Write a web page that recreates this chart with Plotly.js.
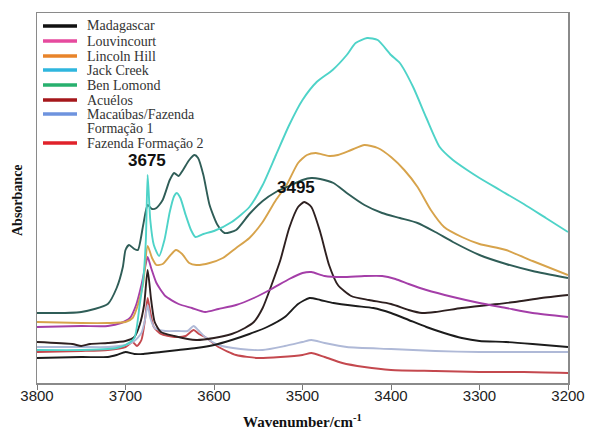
<!DOCTYPE html>
<html><head><meta charset="utf-8">
<script src="https://cdn.plot.ly/plotly-3.0.1.min.js"></script>
<style>body{margin:0;background:#fff}#chart{width:600px;height:432px}</style>
</head><body><div id="chart"></div>
<script>
// Jack Creek (turquoise)
const jackW = [3800,3750,3720,3710,3700,3690,3684,3680,3677,3675,3672,3668,3662,3656,3650,3645,3642,3638,3632,3626,3621,3612,3600,3580,3560,3545,3530,3515,3500,3484,3466,3450,3440,3427,3415,3400,3390,3375,3360,3345,3330,3314,3300,3277,3250,3225,3200];
const jackA = [33,33,34,35,38,45,78,103,143,208,163,138,127,143,171,187,190,185,168,153,146,149,152,161,176,198,228,258,283,301,313,328,340,345,343,328,320,296,265,236,223,213,205,193,179,165,151];
// Ben Lomond (dark teal)
const benW = [3800,3750,3720,3710,3703,3700,3696,3690,3686,3680,3675,3670,3665,3658,3650,3645,3640,3635,3628,3622,3618,3612,3605,3596,3588,3575,3560,3545,3530,3515,3500,3490,3480,3465,3450,3430,3410,3390,3370,3350,3330,3300,3270,3240,3200];
const benA = [70,71,79,95,116,133,138,134,133,158,178,174,175,183,203,210,207,213,223,228,225,208,178,158,150,153,169,182,191,197,203,205,204,200,190,178,170,165,160,151,141,128,119,112,105];
// Lincoln Hill (orange)
const lincW = [3800,3750,3720,3700,3692,3686,3680,3675,3670,3665,3658,3650,3643,3636,3628,3620,3605,3590,3575,3560,3545,3530,3518,3505,3495,3485,3470,3460,3445,3430,3415,3400,3385,3370,3355,3340,3320,3300,3270,3240,3200];
const lincA = [61,60,60,61,65,78,100,137,125,118,119,127,133,129,120,118,120,125,135,145,161,183,198,220,228,230,227,228,233,238,235,226,213,196,173,156,146,139,133,122,108];
// Louvincourt (magenta)
const louvW = [3800,3750,3720,3705,3695,3688,3682,3678,3675,3671,3665,3655,3640,3625,3610,3595,3575,3555,3535,3515,3500,3490,3475,3455,3430,3410,3395,3380,3360,3330,3300,3270,3240,3200];
const louvA = [56,57,57,60,65,78,98,115,126,115,100,87,79,75,71,74,78,85,94,104,110,111,107,106,107,107,104,99,93,86,80,75,70,66];
// Madagascar (dark, sharp 3495 band)
const madW = [3800,3760,3750,3740,3720,3700,3690,3684,3679,3675,3671,3667,3660,3645,3620,3600,3580,3565,3555,3545,3535,3525,3515,3505,3498,3490,3480,3470,3460,3445,3425,3400,3380,3365,3350,3320,3290,3260,3230,3200];
const madA = [41,39,37,39,40,42,46,58,78,113,83,61,51,47,43,45,49,55,61,75,98,123,155,176,181,176,151,118,98,87,83,79,73,70,71,75,78,81,85,88];
// Acuélos (black, broad band)
const acuW = [3800,3750,3720,3710,3700,3690,3680,3660,3640,3620,3600,3580,3560,3540,3520,3505,3492,3480,3465,3440,3420,3400,3380,3360,3340,3320,3300,3270,3240,3200];
const acuA = [25,26,26,28,31,29,29,31,33,35,38,43,49,56,66,79,85,83,80,77,75,70,63,56,50,45,42,41,39,36];
// Macaúbas/Fazenda Formação 1 (light blue)
const macW = [3800,3750,3720,3700,3690,3682,3678,3675,3672,3667,3655,3640,3630,3623,3618,3610,3595,3570,3545,3520,3500,3490,3475,3450,3400,3350,3300,3250,3200];
const macA = [36,36,36,38,42,50,63,78,65,55,52,52,52,57,53,46,38,34,33,37,41,43,40,36,34,32,31,31,31];
// Fazenda Formação 2 (red)
const fazW = [3800,3750,3720,3700,3692,3687,3682,3678,3675,3672,3668,3660,3645,3632,3623,3617,3610,3595,3575,3550,3525,3500,3490,3475,3455,3430,3400,3350,3300,3250,3200];
const fazA = [31,32,33,36,41,37,43,63,85,71,56,49,46,47,53,49,46,36,28,25,26,28,30,26,20,16,13,12,11,11,10];

const legendNames = ["Madagascar","Louvincourt","Lincoln Hill","Jack Creek","Ben Lomond","Acuélos","Macaúbas/Fazenda","Formação 1","Fazenda Formação 2"];
const legendColors = ["#111111","#E64A9E","#E8842A","#2FB6DE","#27B06E","#A5171B","#6E93DE",null,"#E0222A"];
const peakLabels = ["3675","3495"];
const peakLabelW = [3676,3507];
const peakLabelA = [223,196];
const xTicks = [3800,3700,3600,3500,3400,3300,3200];

const series = [
  {w:fazW, a:fazA, c:"#C4484E", n:"Fazenda Formação 2"},
  {w:macW, a:macA, c:"#AFB9D7", n:"Macaúbas/Fazenda Formação 1"},
  {w:acuW, a:acuA, c:"#1C1C1C", n:"Acuélos"},
  {w:madW, a:madA, c:"#2E2020", n:"Madagascar"},
  {w:louvW, a:louvA, c:"#A43EA8", n:"Louvincourt"},
  {w:lincW, a:lincA, c:"#D7A34B", n:"Lincoln Hill"},
  {w:benW, a:benA, c:"#2F5D57", n:"Ben Lomond"},
  {w:jackW, a:jackA, c:"#4ED3C8", n:"Jack Creek"}
];
const traces = series.map(s => ({
  x: s.w, y: s.a, type: "scatter", mode: "lines", name: s.n,
  line: {color: s.c, width: 1.9, shape: "spline", smoothing: 0.6},
  showlegend: false, hoverinfo: "skip"
}));

const L = 37, R = 568, T = 13, B = 383;
const W = R - L, H = B - T;
const px = v => (v - L) / W;
const py = v => (B - v) / H;

const shapes = [];
const annotations = [];
const rowY = [26,41,56,70,85,100,114,128,143];
legendNames.forEach((nm, i) => {
  if (legendColors[i]) {
    shapes.push({type:"line", xref:"paper", yref:"paper", x0:px(43), x1:px(77), y0:py(rowY[i]), y1:py(rowY[i]),
      line:{color:legendColors[i], width:3.5}});
  }
  annotations.push({xref:"paper", yref:"paper", x:px(85), y:py(rowY[i]), xanchor:"left", yanchor:"middle",
    text:nm, showarrow:false, font:{family:"Liberation Serif, Times New Roman, serif", size:14, color:"#333"}});
});
peakLabels.forEach((t, i) => {
  annotations.push({x:peakLabelW[i], y:peakLabelA[i], xref:"x", yref:"y", xanchor:"center", yanchor:"middle",
    text:"<b>"+t+"</b>", showarrow:false,
    font:{family:"Liberation Sans, Arial, sans-serif", size:17, color:"#111"}});
});
annotations.push({xref:"paper", yref:"paper", x:px(18), y:py(200), xanchor:"center", yanchor:"middle",
  text:"<b>Absorbance</b>", textangle:-90,
  showarrow:false, font:{family:"Liberation Serif, Times New Roman, serif", size:14, color:"#111"}});
annotations.push({xref:"paper", yref:"paper", x:px(302), y:py(421), xanchor:"center", yanchor:"middle",
  text:"<b>Wavenumber/cm<sup>-1</sup></b>",
  showarrow:false, font:{family:"Liberation Serif, Times New Roman, serif", size:15, color:"#111"}});

const layout = {
  width:600, height:432,
  margin:{l:L, r:600-R, t:T, b:432-B, pad:0},
  paper_bgcolor:"#fff", plot_bgcolor:"#fff",
  xaxis:{range:[3800,3200], tickvals:xTicks, ticks:"outside", ticklen:5, tickcolor:"#777",
    ticklabelstandoff:-7,
    showline:true, mirror:true, linecolor:"#8a8a8a", linewidth:1.5, showgrid:false, zeroline:false,
    tickfont:{family:"Liberation Sans, Arial, sans-serif", size:15, color:"#222"}},
  yaxis:{range:[0,370], showticklabels:false, ticks:"", showline:true, mirror:true, linecolor:"#8a8a8a",
    linewidth:1.5, showgrid:false, zeroline:false},
  shapes:shapes, annotations:annotations, showlegend:false
};
Plotly.newPlot("chart", traces, layout, {staticPlot:true, displayModeBar:false});
</script></body></html>
